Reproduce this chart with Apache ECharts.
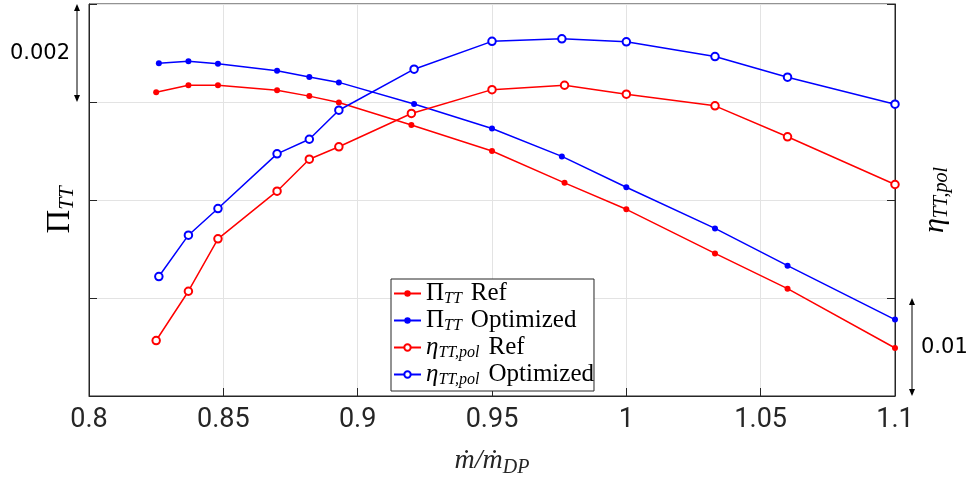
<!DOCTYPE html>
<html>
<head>
<meta charset="utf-8">
<script src="https://cdn.jsdelivr.net/npm/echarts@6/dist/echarts.min.js"></script>
<style>
html,body{margin:0;padding:0;background:#fff;}
#main{width:971px;height:480px;}
</style>
</head>
<body>
<div id="main"></div>
<script>
// ---- data ----
const xTicks = [0.8, 0.85, 0.9, 0.95, 1, 1.05, 1.1];
const xRef = [0.825, 0.837, 0.848, 0.870, 0.882, 0.893, 0.920, 0.950, 0.977, 1.000, 1.033, 1.060, 1.100];
const xOpt = [0.826, 0.837, 0.848, 0.870, 0.882, 0.893, 0.921, 0.950, 0.976, 1.000, 1.033, 1.060, 1.100];
const piRef = [1.60620, 1.60634, 1.60634, 1.60624, 1.60612, 1.60599, 1.60553, 1.60500, 1.60435, 1.60381, 1.60291, 1.60219, 1.60098];
const piOpt = [1.60679, 1.60683, 1.60678, 1.60664, 1.60651, 1.60640, 1.60596, 1.60546, 1.60489, 1.60426, 1.60342, 1.60266, 1.60156];
const etaRef = [0.86566, 0.87069, 0.87604, 0.88090, 0.88416, 0.88543, 0.88883, 0.89126, 0.89171, 0.89080, 0.88961, 0.88645, 0.88158];
const etaOpt = [0.87219, 0.87641, 0.87913, 0.88471, 0.88620, 0.88916, 0.89335, 0.89619, 0.89645, 0.89614, 0.89464, 0.89253, 0.88978];
const seriesNames = ['PiRef', 'PiOpt', 'EtaRef', 'EtaOpt'];
const legendLabels = {
  PiRef: '{p|Π}{s|TT}{r|Ref}',
  PiOpt: '{p|Π}{s|TT}{r|Optimized}',
  EtaRef: '{i|η}{s|TT,pol}{r|Ref}',
  EtaOpt: '{i|η}{s|TT,pol}{r|Optimized}'
};
const piScale = 0.002, etaScale = 0.01;

function zip(xs, ys) { return xs.map((x, i) => [x, ys[i]]); }

const RED = '#ff0000', BLUE = '#0000ff', INK = '#262626';
const serif = '"Liberation Serif", "DejaVu Serif", serif';

const chart = echarts.init(document.getElementById('main'), null, {renderer: 'canvas'});

function mkSeries(name, xs, ys, color, yIdx, hollow) {
  return {
    name: name, type: 'line', xAxisIndex: 0, yAxisIndex: yIdx,
    data: zip(xs, ys),
    symbol: hollow ? 'emptyCircle' : 'circle',
    symbolSize: hollow ? 7.5 : 6,
    showAllSymbol: true,
    lineStyle: {color: color, width: 1.5},
    itemStyle: hollow ? {color: color, borderWidth: 1.5} : {color: color},
    emphasis: {disabled: true},
    animation: false
  };
}

const LH = 27;
const option = {
  animation: false,
  backgroundColor: '#fff',
  grid: {left: 89, right: 76, top: 4, height: 392, outerBoundsMode: 'none', containLabel: false,
    show: true, borderColor: INK, borderWidth: 1, backgroundColor: 'transparent'},
  xAxis: {
    type: 'value', min: 0.8, max: 1.1, interval: 0.05,
    axisLine: {show: true, onZero: false, lineStyle: {color: INK, width: 1}},
    axisTick: {show: true, inside: true, length: 8, lineStyle: {color: INK}},
    splitLine: {show: true, lineStyle: {color: '#e3e3e3', width: 1}},
    axisLabel: {
      color: '#262626', fontFamily: 'Roboto', fontSize: 27, margin: 11,
      formatter: v => { const t = xTicks.find(k => Math.abs(k - v) < 1e-6); return t !== undefined ? String(t) : ''; }
    },
    name: '{i|ṁ/ṁ}{s|DP}', nameLocation: 'middle', nameGap: 48,
    nameTextStyle: {
      rich: {
        i: {fontFamily: serif, fontStyle: 'italic', fontSize: 28, color: '#262626', lineHeight: 34},
        s: {fontFamily: serif, fontStyle: 'italic', fontSize: 20, color: '#262626', lineHeight: 20, verticalAlign: 'bottom'}
      }
    }
  },
  yAxis: [
    {
      type: 'value', min: 1.600, max: 1.608, interval: piScale, position: 'left',
      axisLine: {show: true, lineStyle: {color: INK}},
      axisTick: {show: true, inside: true, length: 8, lineStyle: {color: INK}},
      axisLabel: {show: false},
      splitLine: {show: true, lineStyle: {color: '#e3e3e3', width: 1}}
    },
    {
      type: 'value', min: 0.86, max: 0.90, interval: etaScale, position: 'right',
      axisLine: {show: true, lineStyle: {color: INK}},
      axisTick: {show: true, inside: true, length: 8, lineStyle: {color: INK}},
      axisLabel: {show: false},
      splitLine: {show: false}
    }
  ],
  legend: {
    orient: 'vertical', left: 391, top: 279,
    data: seriesNames,
    backgroundColor: '#fff', borderColor: INK, borderWidth: 1,
    padding: [2, 0, 3, 2],
    itemGap: 1, itemWidth: 27, itemHeight: 8,
    formatter: n => legendLabels[n],
    textStyle: {
      color: '#000',
      rich: {
        p: {fontFamily: serif, fontSize: 25, color: '#000', lineHeight: LH},
        i: {fontFamily: serif, fontStyle: 'italic', fontSize: 25, color: '#000', lineHeight: LH},
        s: {fontFamily: serif, fontStyle: 'italic', fontSize: 16, color: '#000', lineHeight: 18, verticalAlign: 'bottom'},
        r: {fontFamily: serif, fontSize: 25, color: '#000', lineHeight: LH, padding: [0, 0, 0, 9]}
      }
    },
    selectedMode: false
  },
  series: [
    mkSeries('PiRef', xRef, piRef, RED, 0, false),
    mkSeries('PiOpt', xOpt, piOpt, BLUE, 0, false),
    mkSeries('EtaRef', xRef, etaRef, RED, 1, true),
    mkSeries('EtaOpt', xOpt, etaOpt, BLUE, 1, true)
  ]
};
chart.setOption(option);

// ---- annotations: scale bars and axis symbols, placed via the axes ----
function arrow(x, yTop, yBot) {
  const h = 7, w = 3;
  return [
    {type: 'line', shape: {x1: x, y1: yTop + 2, x2: x, y2: yBot - 2}, style: {stroke: '#000', lineWidth: 1}},
    {type: 'polygon', shape: {points: [[x, yTop], [x - w, yTop + h], [x + w, yTop + h]]}, style: {fill: '#000'}},
    {type: 'polygon', shape: {points: [[x, yBot], [x - w, yBot - h], [x + w, yBot - h]]}, style: {fill: '#000'}}
  ];
}
const yPiTop = chart.convertToPixel({yAxisIndex: 0}, 1.608);
const yPiBot = chart.convertToPixel({yAxisIndex: 0}, 1.608 - piScale);
const yEtaTop = chart.convertToPixel({yAxisIndex: 1}, 0.86 + etaScale);
const yEtaBot = chart.convertToPixel({yAxisIndex: 1}, 0.86);
const xLeft = chart.convertToPixel({xAxisIndex: 0}, 0.8);
const xRight = chart.convertToPixel({xAxisIndex: 0}, 1.1);

const g = [];
arrow(xLeft - 12, yPiTop, yPiBot).forEach(e => g.push(e));
arrow(xRight + 17, yEtaTop, yEtaBot).forEach(e => g.push(e));
g.push({type: 'text', x: 40, y: (yPiTop + yPiBot) / 2 + 1,
  style: {text: '0.002', fontFamily: '"DejaVu Sans"', fontSize: 21, fill: '#000', align: 'center', verticalAlign: 'middle'}});
g.push({type: 'text', x: xRight + 26, y: (yEtaTop + yEtaBot) / 2 + 1,
  style: {text: '0.01', fontFamily: '"DejaVu Sans"', fontSize: 21, fill: '#000', align: 'left', verticalAlign: 'middle'}});
g.push({type: 'text', x: 60, y: 210, rotation: Math.PI / 2,
  style: {text: '{p|Π}{s|TT}', align: 'center', verticalAlign: 'middle',
    rich: {p: {fontFamily: serif, fontSize: 33, fill: '#000', lineHeight: 36},
           s: {fontFamily: serif, fontStyle: 'italic', fontSize: 21, fill: '#000', lineHeight: 22, verticalAlign: 'bottom'}}}});
g.push({type: 'text', x: 935, y: 200, rotation: Math.PI / 2,
  style: {text: '{i|η}{s|TT,pol}', align: 'center', verticalAlign: 'middle',
    rich: {i: {fontFamily: serif, fontStyle: 'italic', fontSize: 30, fill: '#000', lineHeight: 34},
           s: {fontFamily: serif, fontStyle: 'italic', fontSize: 20, fill: '#000', lineHeight: 20, verticalAlign: 'bottom'}}}});
chart.setOption({graphic: g});
</script>
</body>
</html>
